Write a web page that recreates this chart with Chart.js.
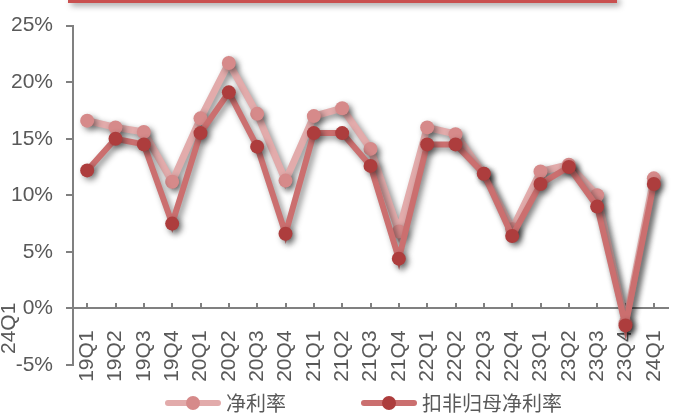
<!DOCTYPE html>
<html lang="zh">
<head>
  <meta charset="UTF-8">
  <title>净利率</title>
  <script src="https://cdn.jsdelivr.net/npm/chart.js"></script>
  <style>
    body { margin: 0; background: #fff; }
    #wrap { position: relative; width: 675px; height: 415px; overflow: hidden; }
    #topBar {
      position: absolute; left: 68px; top: -4px; width: 549px; height: 4px;
      border-bottom: 3px solid #c9504f;
      box-shadow: 3px 3px 6px rgba(0,0,0,0.35);
    }
    #sideLabel {
      position: absolute; left: -18px; top: 316px; width: 52px;
      transform: rotate(-90deg); font: 21px "Liberation Sans", Arial, sans-serif; color: #595959;
    }
    #legend {
      position: absolute; top: 388px; left: 165px; display: flex; align-items: center;
      font: 20px "Noto Sans CJK SC", sans-serif; color: #595959;
    }
    .item { display: flex; align-items: center; margin-right: 75px; }
    .swatch { position: relative; width: 56px; height: 16px; margin-right: 5px; }
    .swatch .ln { position: absolute; left: 0; right: 0; top: 5px; height: 6px; border-radius: 3px; }
    .swatch .dot { position: absolute; left: 21px; top: 1px; width: 14px; height: 14px; border-radius: 50%; }
  </style>
</head>
<body>
  <div id="wrap">
    <canvas id="ratioChart" width="675" height="415"></canvas>
    <div id="topBar"></div>
    <div id="sideLabel">24Q1</div>
    <div id="legend"></div>
  </div>

  <script>
    const quarters = ['19Q1','19Q2','19Q3','19Q4','20Q1','20Q2','20Q3','20Q4','21Q1','21Q2','21Q3',
                      '21Q4','22Q1','22Q2','22Q3','22Q4','23Q1','23Q2','23Q3','23Q4','24Q1'];
    const netMargin = [16.6, 16.0, 15.6, 11.2, 16.8, 21.7, 17.2, 11.3, 17.0, 17.7, 14.1,
                       6.8, 16.0, 15.4, 11.9, 7.0, 12.1, 12.7, 10.0, -1.3, 11.5];
    const deductedMargin = [12.2, 15.0, 14.5, 7.5, 15.5, 19.1, 14.3, 6.6, 15.5, 15.5, 12.6,
                            4.4, 14.5, 14.5, 11.9, 6.4, 11.0, 12.5, 9.0, -1.5, 11.0];
    const seriesNames = ['净利率', '扣非归母净利率'];
    const yTicks = [-5, 0, 5, 10, 15, 20, 25];

    const lineColors = ['#e2abab', '#cb6f6f'];
    const dotColors = ['#d68a8a', '#ad3d3d'];

    // soft drop shadow under each series
    const shadowPlugin = {
      id: 'shadow',
      beforeDatasetDraw(chart) {
        const ctx = chart.ctx;
        ctx.save();
        ctx.shadowColor = 'rgba(0,0,0,0.45)';
        ctx.shadowBlur = 6;
        ctx.shadowOffsetX = 3;
        ctx.shadowOffsetY = 3;
      },
      afterDatasetDraw(chart) {
        chart.ctx.restore();
      }
    };

    const tickFont = { family: '"Liberation Sans", Arial, sans-serif', size: 21 };

    new Chart(document.getElementById('ratioChart'), {
      type: 'line',
      data: {
        labels: quarters,
        datasets: [
          {
            label: seriesNames[0], data: netMargin, order: 1,
            borderColor: lineColors[0], borderWidth: 7,
            pointBackgroundColor: dotColors[0], pointBorderWidth: 0, pointRadius: 7,
            tension: 0, clip: false
          },
          {
            label: seriesNames[1], data: deductedMargin, order: 0,
            borderColor: lineColors[1], borderWidth: 6,
            pointBackgroundColor: dotColors[1], pointBorderWidth: 0, pointRadius: 7,
            tension: 0, clip: false
          }
        ]
      },
      options: {
        responsive: false,
        animation: false,
        layout: { padding: { left: 0, right: 7, top: 25, bottom: 50 } },
        plugins: { legend: { display: false }, tooltip: { enabled: false } },
        scales: {
          x: {
            position: { y: 0 },
            offset: true,
            afterFit(scale) { scale.paddingLeft = 0; scale.paddingRight = 0; },
            grid: { drawOnChartArea: false, tickLength: -6, color: '#808080', lineWidth: 2 },
            border: { color: '#808080', width: 2 },
            ticks: { minRotation: 90, maxRotation: 90, autoSkip: false, padding: 28, font: tickFont, color: '#595959' }
          },
          y: {
            min: -5, max: 25,
            afterBuildTicks(scale) { scale.ticks = yTicks.map(v => ({ value: v })); },
            afterFit(scale) { scale.width = 73; },
            grid: { drawOnChartArea: false, tickLength: 7, color: '#808080', lineWidth: 2 },
            border: { color: '#808080', width: 2 },
            ticks: { padding: 13, font: tickFont, color: '#595959', callback: v => v + '%' }
          }
        }
      },
      plugins: [shadowPlugin]
    });

    // legend with line + dot swatches
    const legend = document.getElementById('legend');
    seriesNames.forEach((name, i) => {
      const item = document.createElement('div');
      item.className = 'item';
      item.innerHTML = '<span class="swatch"><span class="ln" style="background:' + lineColors[i] +
        '"></span><span class="dot" style="background:' + dotColors[i] + '"></span></span><span>' + name + '</span>';
      legend.appendChild(item);
    });
  </script>
</body>
</html>
